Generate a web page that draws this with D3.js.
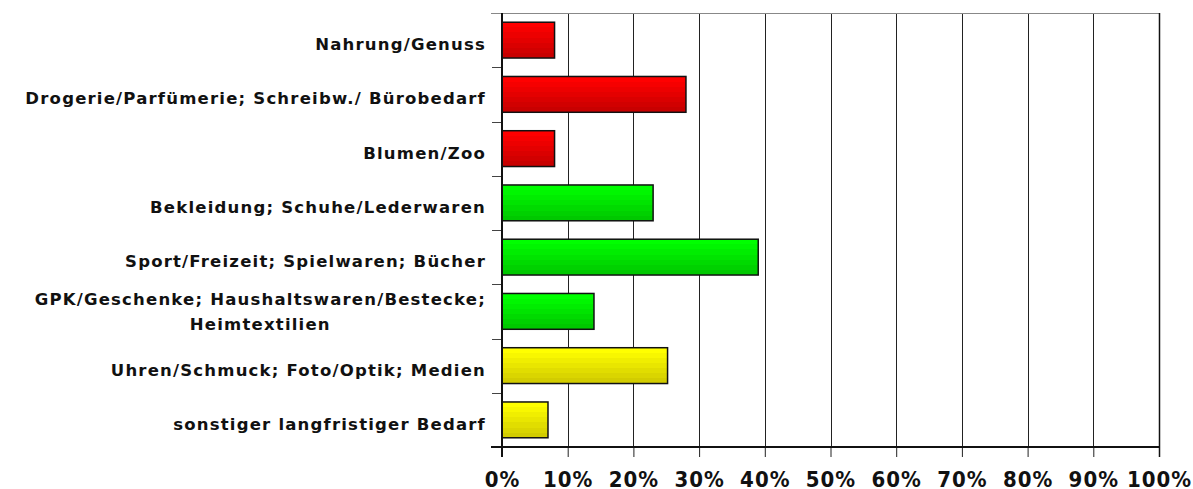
<!DOCTYPE html>
<html>
<head>
<meta charset="utf-8">
<script src="https://cdn.jsdelivr.net/npm/d3@7"></script>
<style>
  body { margin: 0; background: #fff; }
  text { font-family: "DejaVu Sans", sans-serif; font-weight: bold; fill: #111; }
</style>
</head>
<body>
<script>
var categories = [
  "Nahrung/Genuss",
  "Drogerie/Parfümerie; Schreibw./ Bürobedarf",
  "Blumen/Zoo",
  "Bekleidung; Schuhe/Lederwaren",
  "Sport/Freizeit; Spielwaren; Bücher",
  "GPK/Geschenke; Haushaltswaren/Bestecke;|Heimtextilien",
  "Uhren/Schmuck; Foto/Optik; Medien",
  "sonstiger langfristiger Bedarf"
];
var values = [8, 28, 8, 23, 39, 14, 25.2, 7];
var groups = ["red", "red", "red", "green", "green", "green", "yellow", "yellow"];
var xTicks = [0, 10, 20, 30, 40, 50, 60, 70, 80, 90, 100];

var width = 1193;
var height = 489;
var plotLeft = 502, plotRight = 1159, plotTop = 13, plotBottom = 447;

var palette = {
  red: ["#ff0000", "#c80000"],
  green: ["#00ff00", "#00c800"],
  yellow: ["#ffff00", "#d2cc00"]
};

var svg = d3.select("body")
  .append("svg")
  .attr("width", width)
  .attr("height", height);

// striped vertical gradients for the bars
var defs = svg.append("defs");
Object.keys(palette).forEach(function(key) {
  var grad = defs.append("linearGradient")
    .attr("id", "grad-" + key)
    .attr("x1", 0).attr("y1", 0).attr("x2", 0).attr("y2", 1);
  var c = d3.interpolateRgb(palette[key][0], palette[key][1]);
  var steps = 7;
  for (var i = 0; i < steps; i++) {
    grad.append("stop").attr("offset", i / steps).attr("stop-color", c(i / (steps - 1)));
    grad.append("stop").attr("offset", (i + 1) / steps).attr("stop-color", c(i / (steps - 1)));
  }
});

var x = d3.scaleLinear().domain([0, 100]).range([plotLeft, plotRight]);
var y = d3.scaleBand().domain(categories).range([plotTop, plotBottom])
  .paddingInner(0.34).paddingOuter(0.17);

// gridlines
svg.selectAll("line.grid")
  .data(xTicks.slice(1))
  .enter()
  .append("line")
  .attr("class", "grid")
  .attr("x1", function(d) { return Math.round(x(d)) + 0.5; })
  .attr("x2", function(d) { return Math.round(x(d)) + 0.5; })
  .attr("y1", plotTop)
  .attr("y2", plotBottom)
  .attr("stroke", "#222")
  .attr("stroke-width", 1);

// top border
svg.append("line")
  .attr("x1", plotLeft - 11).attr("x2", plotRight + 1)
  .attr("y1", plotTop + 0.5).attr("y2", plotTop + 0.5)
  .attr("stroke", "#888").attr("stroke-width", 1);

// bars
svg.selectAll("rect.bar")
  .data(values)
  .enter()
  .append("rect")
  .attr("class", "bar")
  .attr("x", x(0))
  .attr("y", function(d, i) { return y(categories[i]); })
  .attr("width", function(d) { return x(d) - x(0); })
  .attr("height", y.bandwidth())
  .attr("fill", function(d, i) { return "url(#grad-" + groups[i] + ")"; })
  .attr("stroke", "#111")
  .attr("stroke-width", 1.5);

// bottom axis
var xAxis = d3.axisBottom(x)
  .tickValues(xTicks)
  .tickSize(10)
  .tickFormat(function(d) { return d + "%"; });

var gx = svg.append("g")
  .attr("transform", "translate(0," + plotBottom + ")")
  .call(xAxis);
gx.select(".domain").remove();
gx.selectAll(".tick line").attr("stroke", "#222");
gx.selectAll(".tick text")
  .attr("y", 40)
  .attr("dy", 0)
  .style("font-size", "22px")
  .style("letter-spacing", "1px")
  .style("font-family", "'DejaVu Sans Condensed', 'DejaVu Sans', sans-serif")
  .style("font-weight", "bold")
  .attr("fill", "#111");

svg.append("line")
  .attr("x1", plotLeft - 11).attr("x2", plotRight + 1)
  .attr("y1", plotBottom).attr("y2", plotBottom)
  .attr("stroke", "#111").attr("stroke-width", 2);

// left axis with ticks on band boundaries
var bounds = d3.range(categories.length + 1).map(function(i) {
  return plotTop + i * (plotBottom - plotTop) / categories.length;
});
svg.selectAll("line.ytick")
  .data(bounds.slice(1, -1))
  .enter()
  .append("line")
  .attr("class", "ytick")
  .attr("x1", plotLeft - 10).attr("x2", plotLeft)
  .attr("y1", function(d) { return Math.round(d) + 0.5; })
  .attr("y2", function(d) { return Math.round(d) + 0.5; })
  .attr("stroke", "#444");

svg.append("line")
  .attr("x1", plotLeft).attr("x2", plotLeft)
  .attr("y1", plotTop).attr("y2", plotBottom + 10)
  .attr("stroke", "#111").attr("stroke-width", 2);

// right border
svg.append("line")
  .attr("x1", plotRight + 0.5).attr("x2", plotRight + 0.5)
  .attr("y1", plotTop).attr("y2", plotBottom + 10)
  .attr("stroke", "#111").attr("stroke-width", 1.5);

// category labels
var labelX = 486;
var labels = svg.selectAll("text.cat")
  .data(categories)
  .enter()
  .append("text")
  .attr("class", "cat")
  .style("font-size", "16.5px")
  .style("letter-spacing", "1.2px");

labels.each(function(d) {
  var lines = d.split("|");
  var t = d3.select(this);
  var cy = y(d) + y.bandwidth() / 2;
  if (lines.length === 1) {
    t.attr("x", labelX).attr("y", cy + 10).attr("text-anchor", "end").text(d);
  } else {
    t.attr("text-anchor", "end").attr("x", labelX).attr("y", cy - 6).text(lines[0]);
    var w = this.getComputedTextLength();
    svg.append("text")
      .attr("class", "cat")
      .style("font-size", "16.5px")
      .style("letter-spacing", "1.2px")
      .attr("text-anchor", "middle")
      .attr("x", labelX - w / 2)
      .attr("y", cy + 19)
      .text(lines[1]);
  }
});
</script>
</body>
</html>
